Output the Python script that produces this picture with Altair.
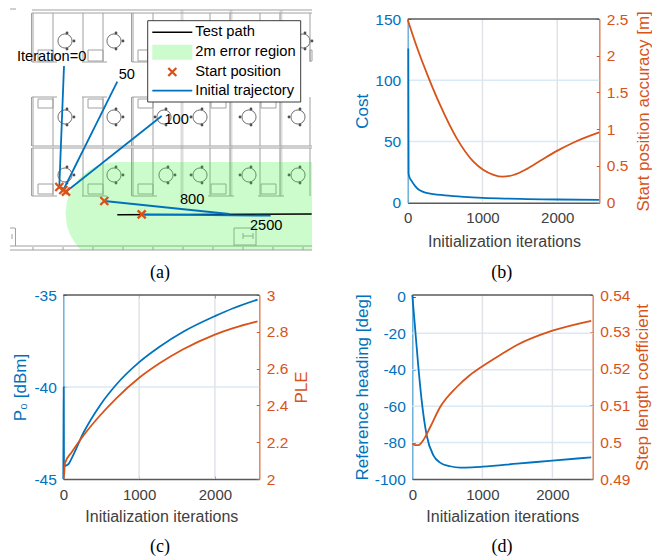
import altair as alt

BLUE = "#0072BD"
ORANGE = "#D95319"
FONT = "Liberation Sans"
SERIF = "Liberation Serif"
PAGE_W, PAGE_H = 644, 548

# ---------- panel (b) ----------
b_cost_x = [8, 10, 12, 20, 50, 100, 150, 200, 250, 300, 500, 750, 1000, 1300, 1600, 2000, 2560]
b_cost_y = [126, 60, 24, 21.5, 18, 13.5, 10.5, 9, 8, 7.5, 6, 4.8, 4, 3.4, 3, 2.6, 2.3]
b_acc_x = [0, 120, 277, 433, 656, 879, 1013, 1147, 1268, 1415, 1594, 1772, 1996, 2219, 2560]
b_acc_y = [2.49, 2.125, 1.706, 1.33, 0.875, 0.558, 0.445, 0.38, 0.354, 0.377, 0.46, 0.57, 0.705, 0.82, 0.957]

# ---------- panel (c) ----------
c_p0_x = [0, 3, 5, 8, 22, 66, 110, 264, 484, 703, 1002, 1275, 1582, 2000, 2242, 2563]
c_p0_y = [-45, -42, -40, -44.1, -44.28, -44.2, -43.88, -42.5, -41.0, -39.85, -38.65, -37.8, -37.0, -36.15, -35.72, -35.25]
c_ple_x = [0, 5, 22, 110, 264, 484, 703, 1002, 1275, 1582, 2000, 2242, 2563]
c_ple_y = [2, 2.0, 2.085, 2.145, 2.235, 2.345, 2.44, 2.55, 2.63, 2.705, 2.785, 2.82, 2.857]

# ---------- panel (d) ----------
d_head_x = [0, 33, 86, 134, 205, 301, 396, 539, 683, 850, 1007, 1494, 2000, 2554]
d_head_y = [1, -14, -38.3, -57, -76, -87, -91, -93, -93.8, -93.6, -93.2, -91.6, -89.9, -88.1]
d_step_x = [0, 38, 86, 158, 253, 396, 635, 820, 1007, 1255, 1494, 2000, 2554]
d_step_y = [0.4997, 0.4992, 0.4992, 0.5006, 0.504, 0.5095, 0.515, 0.5182, 0.5207, 0.5237, 0.5264, 0.5303, 0.533]

# ---------- panel (a): floor plan read in picture units ----------
plan_dark_x = [33, 53, 83, 103, 133, 153, 210, 230, 260, 280, 310]
row_spans = [(13, 62), (97, 146), (148, 196)]
plan_pale_x = [182, 231, 281]
plan_h = [(32, 312, 10), (32, 312, 13), (32, 312, 146), (32, 312, 148), (10, 312, 246), (10, 312, 250),
          (32, 57, 62), (82, 107, 62), (132, 147, 62), (32, 57, 97), (82, 107, 97), (132, 157, 97),
          (32, 57, 196), (82, 107, 196), (132, 157, 196), (208, 234, 196), (258, 284, 196),
          (10, 15, 228), (234, 256, 228), (234, 256, 245), (243, 253, 236), (10, 16, 9)]
plan_v = [(15.5, 228, 246), (234, 228, 246), (256, 228, 246), (243, 233, 239), (253, 233, 239), (12, 234, 239)]
wall_x = [33, 63, 93, 123, 153, 183, 213, 243, 273, 303]
desks = [(38, 53, 50, 61), (88, 103, 50, 61), (138, 148, 50, 61), (310, 312, 50, 61),
         (38, 53, 99, 108), (88, 103, 99, 108), (138, 153, 99, 108), (211, 226, 97, 108), (261, 276, 97, 108),
         (38, 53, 184, 194), (88, 103, 184, 194), (138, 153, 184, 194), (211, 226, 184, 194), (261, 276, 184, 194)]
chairs_x = [65, 114, 303, 65, 114, 164, 200, 249, 298, 65, 114, 166, 200, 249, 298]
chairs_y = [41, 41, 41, 117, 117, 117, 117, 117, 117, 175, 175, 175, 175, 175, 175]
chairs_side = [1, 1, 1, 1, 1, -1, -1, -1, -1, 1, 1, 1, -1, -1, -1]

region_x = [65.5, 67, 70, 75, 80, 81, 85, 90, 95, 100, 105, 110, 117, 312]
region_top = [213.5, 201, 192.5, 183.7, 177.7, 177, 173.2, 169.6, 166.9, 164.9, 163.4, 162.5, 162, 162]
region_bot = [213.5, 226, 234.5, 243, 249.3, 250, 250, 250, 250, 250, 250, 250, 250, 250]

path_seg = [(117.3, 214.7, 311.7, 214)]
traj_seg = [(64, 66, 59.3, 187), (117.3, 81.7, 63.3, 190), (161.7, 116, 66, 191.7),
            (104.3, 201, 229.3, 214), (141.7, 214.3, 270.7, 215.7)]
starts_x = [59.3, 63.3, 66, 104.3, 141.7]
starts_y = [187, 190, 191.7, 201, 214.3]
labels_txt = ["Iteration=0", "50", "100", "800", "2500"]
labels_x = [17, 118.7, 164.5, 180, 250]
labels_y = [57.3, 75, 120, 200, 226]

legend_box = (147.7, 300.7, 20.7, 102)
legend_txt = ["Test path", "2m error region", "Start position", "Initial trajectory"]
legend_y = [32.3, 52.3, 72, 90.7]
legend_sx = (152.3, 192.3)
legend_tx = 195.3

captions = ["(a)", "(b)", "(c)", "(d)"]
captions_x = [160, 501.7, 160, 502]
captions_y = [273, 273, 547, 547]

# page-wide picture scale for panel (a) and captions
PX = alt.Scale(domain=[8, 8 + PAGE_W], range=[0, PAGE_W], nice=False, zero=False)
PY = alt.Scale(domain=[8, 8 + PAGE_H], range=[0, PAGE_H], nice=False, zero=False)


def segs(records, color, width, opacity=1.0):
    return alt.Chart(alt.Data(values=records)).mark_rule(
        color=color, strokeWidth=width, opacity=opacity
    ).encode(
        x=alt.X("x:Q", scale=PX, axis=None),
        x2="x2:Q",
        y=alt.Y("y:Q", scale=PY, axis=None),
        y2="y2:Q",
    )


def page_text(txts, xs, ys, size, font=FONT, align="left", color="#000000"):
    recs = [{"t": t, "x": x, "y": y} for t, x, y in zip(txts, xs, ys)]
    return alt.Chart(alt.Data(values=recs)).mark_text(
        font=font, fontSize=size, align=align, baseline="middle", color=color
    ).encode(
        x=alt.X("x:Q", scale=PX, axis=None),
        y=alt.Y("y:Q", scale=PY, axis=None),
        text="t:N",
    )


def axis_common(**kw):
    base = dict(grid=False, labelOverlap=False, labelBound=False, labelFlush=False,
                minExtent=0, maxExtent=0)
    base.update(kw)
    return alt.Axis(**base)


def panel(px0, px1, py_top, py_bot, xdom, xticks, ldom, lticks, lgrid, ltitle, ltx, rdom, rticks, rtitle, rtx,
          xtc, xty, bx, by, ox, oy):
    L, R, T, B = px0 - 8, px1 - 8, py_top - 8, py_bot - 8
    W, H = PAGE_W, PAGE_H
    midy = (T + B) / 2
    sx = alt.Scale(domain=xdom, range=[L, R], nice=False, zero=False)
    sl = alt.Scale(domain=ldom, range=[B, T], nice=False, zero=False)
    sr = alt.Scale(domain=rdom, range=[B, T], nice=False, zero=False)

    x_lab = axis_common(orient="bottom", offset=B - H, values=xticks, ticks=False, domain=True,
                        domainColor="#5a5a5a", domainWidth=1.5, labelColor="#404040", labelFont=FONT,
                        labelFontSize=15, labelPadding=8, labelExpr="datum.value + ''",
                        title="Initialization iterations", titleFont=FONT, titleFontSize=16,
                        titleFontWeight="normal", titleColor="#404040", titleX=xtc - 8, titleY=xty,
                        titleBaseline="middle", titleAlign="center")
    l_lab = axis_common(orient="left", offset=-L, values=lticks, ticks=False, domain=True,
                        domainColor="#6cb0dd", domainWidth=1.5, labelColor=BLUE, labelFont=FONT,
                        labelFontSize=15.5, labelPadding=7, labelExpr="datum.value + ''",
                        title=ltitle, titleFont=FONT, titleFontSize=17, titleFontWeight="normal",
                        titleColor=BLUE, titleAngle=270, titleX=ltx, titleY=midy,
                        titleBaseline="middle", titleAlign="center")
    r_lab = axis_common(orient="right", offset=R - W, values=rticks, ticks=False, domain=True,
                        domainColor="#e3845a", domainWidth=1.5, labelColor=ORANGE, labelFont=FONT,
                        labelFontSize=15.5, labelPadding=7, labelExpr="datum.value + ''",
                        title=rtitle, titleFont=FONT, titleFontSize=17, titleFontWeight="normal",
                        titleColor=ORANGE, titleAngle=270, titleX=rtx, titleY=midy,
                        titleBaseline="middle", titleAlign="center")
    x_tick_b = axis_common(orient="top", offset=-B, values=xticks, ticks=True, tickSize=3, tickColor="#404040",
                           labels=False, domain=False, title=None)
    x_tick_t = axis_common(orient="bottom", offset=T - H, values=xticks, ticks=True, tickSize=3, tickColor="#404040",
                           labels=False, domain=False, title=None)
    l_tick = axis_common(orient="right", offset=L - W, values=lticks, ticks=True, tickSize=3, tickColor=BLUE,
                         labels=False, domain=False, title=None)
    r_tick = axis_common(orient="left", offset=-R, values=rticks, ticks=True, tickSize=3, tickColor=ORANGE,
                         labels=False, domain=False, title=None)

    hgrid = alt.Chart(alt.Data(values=[{"v": v} for v in lgrid])).mark_rule(
        color="#d9eaf6", strokeWidth=1.5
    ).encode(
        x=alt.X(datum=xdom[0], scale=sx, axis=x_lab),
        x2=alt.X2(datum=xdom[1]),
        y=alt.Y("v:Q", scale=sl, axis=l_lab),
    )
    vgrid = alt.Chart(alt.Data(values=[{"v": v} for v in xticks[1:]])).mark_rule(
        color="#e0e4e8", strokeWidth=1.5
    ).encode(
        x=alt.X("v:Q", scale=sx, axis=x_tick_b),
        y=alt.Y(datum=ldom[0], scale=sl, axis=l_tick),
        y2=alt.Y2(datum=ldom[1]),
    )
    top = alt.Chart(alt.Data(values=[{"v": rdom[1]}])).mark_rule(
        color="#5a5a5a", strokeWidth=1.5
    ).encode(
        x=alt.X(datum=xdom[0], scale=sx, axis=x_tick_t),
        x2=alt.X2(datum=xdom[1]),
        y=alt.Y("v:Q", scale=sr, axis=r_lab),
    )
    blue = alt.Chart(alt.Data(values=[{"x": a, "y": c} for a, c in zip(bx, by)])).mark_line(
        color=BLUE, strokeWidth=1.8, interpolate="monotone"
    ).encode(
        x=alt.X("x:Q", scale=sx, axis=None, sort=None),
        y=alt.Y("y:Q", scale=sl, axis=None),
    )
    orange = alt.Chart(alt.Data(values=[{"x": a, "y": c} for a, c in zip(ox, oy)])).mark_line(
        color=ORANGE, strokeWidth=1.8, interpolate="monotone"
    ).encode(
        x=alt.X("x:Q", scale=sx, axis=None, sort=None),
        y=alt.Y("y:Q", scale=sr, axis=r_tick),
    )
    return [hgrid, vgrid, top, blue, orange]


# ---------- build panel (a) ----------
dark_recs = []
for x in plan_dark_x:
    for y0, y1 in row_spans:
        dark_recs.append({"x": x, "x2": x, "y": y0, "y2": y1})
dark_recs += [{"x": a, "x2": a, "y": b, "y2": c} for a, b, c in plan_v]
dark_recs += [{"x": a, "x2": b, "y": c, "y2": c} for a, b, c in plan_h]
for x in wall_x:
    dark_recs.append({"x": x, "x2": x, "y": 247, "y2": 250})
for a, b, c, d in desks:
    dark_recs += [{"x": a, "x2": b, "y": c, "y2": c}, {"x": a, "x2": b, "y": d, "y2": d},
                  {"x": a, "x2": a, "y": c, "y2": d}, {"x": b, "x2": b, "y": c, "y2": d}]
# outer double wall beside each left column
for x in (31.5, 131.5):
    for y0, y1 in row_spans:
        dark_recs.append({"x": x, "x2": x, "y": y0, "y2": y1})

pale_recs = [{"x": x, "x2": x, "y": 10, "y2": 196} for x in plan_pale_x]

plan_lines = segs(dark_recs, "#a0a0a0", 1)
plan_pale = segs(pale_recs, "#dcdcdc", 3)

chair_recs = [{"x": a, "y": b} for a, b in zip(chairs_x, chairs_y)]
chair_ring = alt.Chart(alt.Data(values=chair_recs)).mark_point(
    shape="circle", size=200, filled=False, color="#707070", strokeWidth=1, opacity=1
).encode(x=alt.X("x:Q", scale=PX, axis=None), y=alt.Y("y:Q", scale=PY, axis=None))
dot_recs = []
for a, b, s in zip(chairs_x, chairs_y, chairs_side):
    dot_recs += [{"x": a + 2, "y": b - 8}, {"x": a + 2, "y": b + 8}, {"x": a + 9 * s, "y": b}]
chair_dots = alt.Chart(alt.Data(values=dot_recs)).mark_point(
    shape="circle", size=8, filled=True, color="#505050", opacity=1
).encode(x=alt.X("x:Q", scale=PX, axis=None), y=alt.Y("y:Q", scale=PY, axis=None))

region = alt.Chart(alt.Data(values=[{"x": a, "t": b, "b": c} for a, b, c in zip(region_x, region_top, region_bot)])).mark_area(
    color="#33ee33", opacity=0.25
).encode(
    x=alt.X("x:Q", scale=PX, axis=None),
    y=alt.Y("t:Q", scale=PY, axis=None),
    y2="b:Q",
)
path_line = segs([{"x": a, "y": b, "x2": c, "y2": d} for a, b, c, d in path_seg], "#000000", 1.6)
traj_lines = segs([{"x": a, "y": b, "x2": c, "y2": d} for a, b, c, d in traj_seg], BLUE, 1.8)
start_pts = alt.Chart(alt.Data(values=[{"x": a, "y": b} for a, b in zip(starts_x, starts_y)])).mark_point(
    shape="M-1,-1L1,1M-1,1L1,-1", size=64, filled=False, color=ORANGE, strokeWidth=2.4, opacity=1
).encode(x=alt.X("x:Q", scale=PX, axis=None), y=alt.Y("y:Q", scale=PY, axis=None))
point_labels = page_text(labels_txt, labels_x, labels_y, 14.6)

box = alt.Chart(alt.Data(values=[{"x": legend_box[0], "x2": legend_box[1], "y": legend_box[2], "y2": legend_box[3]}])).mark_rect(
    fill="#ffffff", stroke="#3a3a3a", strokeWidth=1
).encode(x=alt.X("x:Q", scale=PX, axis=None), x2="x2:Q", y=alt.Y("y:Q", scale=PY, axis=None), y2="y2:Q")
leg_path = segs([{"x": legend_sx[0], "x2": legend_sx[1], "y": legend_y[0], "y2": legend_y[0]}], "#000000", 1.6)
leg_traj = segs([{"x": legend_sx[0], "x2": legend_sx[1], "y": legend_y[3], "y2": legend_y[3]}], BLUE, 1.8)
leg_swatch = alt.Chart(alt.Data(values=[{"x": legend_sx[0], "x2": legend_sx[1], "y": legend_y[1] - 7.5, "y2": legend_y[1] + 7.5}])).mark_rect(
    color="#33ee33", opacity=0.25
).encode(x=alt.X("x:Q", scale=PX, axis=None), x2="x2:Q", y=alt.Y("y:Q", scale=PY, axis=None), y2="y2:Q")
leg_pt = alt.Chart(alt.Data(values=[{"x": sum(legend_sx) / 2, "y": legend_y[2]}])).mark_point(
    shape="M-1,-1L1,1M-1,1L1,-1", size=64, filled=False, color=ORANGE, strokeWidth=2.4, opacity=1
).encode(x=alt.X("x:Q", scale=PX, axis=None), y=alt.Y("y:Q", scale=PY, axis=None))
leg_text = page_text(legend_txt, [legend_tx] * 4, legend_y, 14.7)
cap_text = page_text(captions, captions_x, captions_y, 18, font=SERIF, align="center")

layers = [plan_pale, plan_lines, chair_ring, chair_dots, region, path_line, traj_lines, start_pts, point_labels,
          box, leg_path, leg_swatch, leg_pt, leg_traj, leg_text, cap_text]

layers += panel(407.7, 599.3, 19, 202.7, [0, 2562], [0, 1000, 2000],
                [0, 150], [0, 50, 100, 150], [50, 100], "Cost", -45,
                [0, 2.5], [0, 0.5, 1, 1.5, 2, 2.5], "Start position accuracy [m]", 43.7,
                504, 39, b_cost_x, b_cost_y, b_acc_x, b_acc_y)
layers += panel(63.3, 259.3, 295, 479, [0, 2586], [0, 1000, 2000],
                [-45, -35], [-45, -40, -35], [-40], "P₀ [dBm]", -42.6,
                [2, 3], [2, 2.2, 2.4, 2.6, 2.8, 3], "PLE", 42.4,
                161.3, 37.7, c_p0_x, c_p0_y, c_ple_x, c_ple_y)
layers += panel(412.3, 592.7, 295, 479, [0, 2575], [0, 1000, 2000],
                [-100, 1], [-100, -80, -60, -40, -20, 0], [-20, -40, -60, -80], "Reference heading [deg]", -49.6,
                [0.49, 0.54], [0.49, 0.5, 0.51, 0.52, 0.53, 0.54], "Step length coefficient", 50,
                502.3, 37.7, d_head_x, d_head_y, d_step_x, d_step_y)

chart = alt.layer(*layers).resolve_scale(x="independent", y="independent").resolve_axis(
    x="independent", y="independent"
).properties(
    width=PAGE_W, height=PAGE_H, padding=0,
    autosize=alt.AutoSizeParams(type="none"),
).configure_view(stroke=None)

chart.save("out.html", embed_options={"renderer": "svg", "actions": False})
